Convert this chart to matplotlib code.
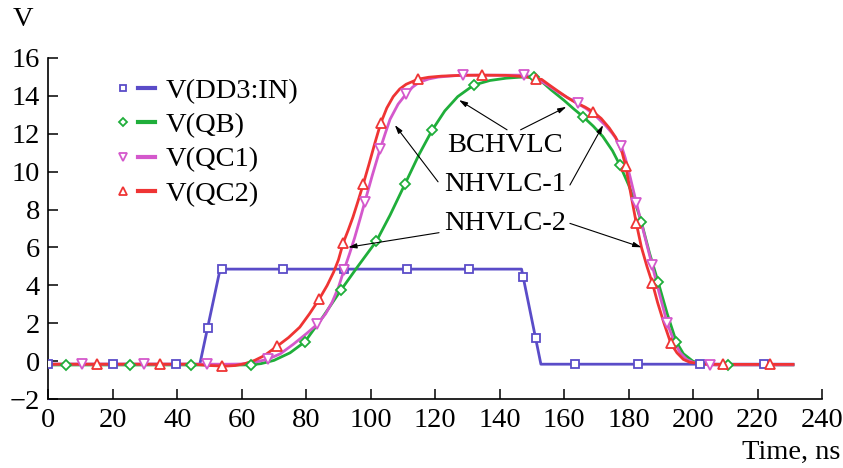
import matplotlib.pyplot as plt
from matplotlib.lines import Line2D
from matplotlib.legend_handler import HandlerTuple

plt.rcParams['font.family'] = ['Liberation Serif', 'DejaVu Serif']

# V(DD3:IN) - line vertices and marker points
in_t = [0, 47, 53.3, 146.8, 152.8, 231]
in_v = [-0.15, -0.15, 4.86, 4.86, -0.15, -0.15]
in_mt = [0, 20.2, 39.5, 49.4, 53.8, 72.7, 91.7, 111.2, 130.4, 147.3, 151.2, 163.4, 183, 202, 221.9]
in_mv = [-0.15, -0.15, -0.15, 1.77, 4.86, 4.86, 4.86, 4.86, 4.86, 4.42, 1.24, -0.15, -0.15, -0.15, -0.15]

# V(QB)
qb_t = [0, 60, 63, 66, 70, 75, 79.6, 85, 90.8, 96, 101.8, 106, 110.6, 115, 119.1, 123, 127, 132,
        137, 142, 146, 150.6, 153, 156, 160, 163, 165.9, 169, 172, 175, 177.3, 180, 182, 184,
        186.5, 189.2, 192, 194.8, 197, 200, 203, 207, 231]
qb_v = [-0.19, -0.19, -0.18, -0.12, 0.05, 0.45, 1.03, 2.3, 3.76, 5.0, 6.34, 7.7, 9.33, 10.9, 12.19,
        13.2, 13.95, 14.56, 14.8, 14.92, 14.97, 14.99, 14.75, 14.3, 13.75, 13.3, 12.89, 12.4, 11.85,
        11.1, 10.34, 9.3, 8.4, 7.32, 5.7, 4.16, 2.5, 1.03, 0.4, 0.0, -0.12, -0.18, -0.19]
qb_mt = [5.5, 25.3, 44.2, 62.9, 79.6, 90.8, 101.8, 110.6, 119.1, 132, 150.6, 165.9, 177.3, 184, 189.2, 194.8, 210.9]
qb_mv = [-0.19, -0.19, -0.19, -0.19, 1.03, 3.76, 6.34, 9.33, 12.19, 14.56, 14.99, 12.89, 10.34, 7.32, 4.16, 1.03, -0.19]

# V(QC1)
qc1_t = [0, 56, 60, 64, 68.2, 72, 76, 80, 83.5, 86, 88, 90, 91.7, 93.5, 95, 96.7, 98.2, 100.5, 102.9,
         104.5, 106, 108.5, 110.9, 113, 115, 118, 121, 125, 128.7, 135, 142, 147.6, 150, 152, 155,
         158, 161, 164.2, 167, 170, 173, 175, 177.8, 179, 180.5, 182.4, 185, 187.3, 189.5, 192, 194,
         196, 198, 200, 203, 205.2, 231]
qc1_v = [-0.15, -0.15, -0.14, -0.05, 0.12, 0.4, 0.9, 1.45, 1.96, 2.5, 3.1, 3.9, 4.8, 5.7, 6.5, 7.5, 8.41,
         9.8, 11.17, 12.0, 12.75, 13.55, 14.07, 14.45, 14.7, 14.88, 14.98, 15.04, 15.08, 15.08, 15.08,
         15.08, 15.0, 14.85, 14.55, 14.2, 13.9, 13.59, 13.3, 12.9, 12.4, 12.0, 11.34, 10.7, 9.7, 8.36,
         6.6, 5.07, 3.6, 2.0, 1.1, 0.45, 0.1, -0.05, -0.15, -0.19, -0.19]
qc1_mt = [10.5, 29.8, 49.1, 68.2, 83.5, 91.7, 98.2, 102.9, 110.9, 128.7, 147.6, 164.2, 177.8, 182.4, 187.3, 192, 205.2]
qc1_mv = [-0.15, -0.15, -0.15, 0.12, 1.96, 4.8, 8.41, 11.17, 14.07, 15.08, 15.08, 13.59, 11.34, 8.36, 5.07, 2.0, -0.19]

# V(QC2)
qc2_t = [0, 45, 50, 55, 58, 61, 64, 67, 71, 74.5, 78, 81, 84, 86.5, 88.5, 90, 91.5, 93, 94.5, 96,
         97.7, 99.5, 101.3, 103.1, 105, 107, 109, 111, 114.7, 118, 122, 128, 134.4, 142, 148, 151.4,
         153, 155.5, 158, 161, 164, 166.5, 169, 171.5, 174, 176, 178, 179.1, 180.5, 182.4, 184,
         185.7, 187.4, 189, 191, 193.1, 195, 197, 199, 202, 205, 209.3, 231]
qc2_v = [-0.15, -0.15, -0.22, -0.25, -0.22, -0.12, 0.05, 0.3, 0.8, 1.25, 1.8, 2.5, 3.27, 4.0, 4.7, 5.35,
         6.25, 6.9, 7.6, 8.4, 9.34, 10.4, 11.5, 12.54, 13.35, 13.95, 14.35, 14.6, 14.87, 14.97, 15.03,
         15.07, 15.08, 15.07, 15.0, 14.87, 14.86, 14.55, 14.25, 13.9, 13.6, 13.4, 13.15, 12.8, 12.3,
         11.8, 11.0, 10.29, 9.0, 7.27, 6.0, 5.0, 4.11, 3.1, 2.0, 0.95, 0.45, 0.1, -0.05, -0.12, -0.15,
         -0.16, -0.16]
qc2_mt = [15.2, 34.8, 53.8, 71, 84, 91.5, 97.7, 103.1, 114.7, 134.4, 151.4, 169, 179.1, 182.4, 187.4, 193.1, 209.3, 223.8]
qc2_mv = [-0.15, -0.15, -0.25, 0.8, 3.27, 6.25, 9.34, 12.54, 14.87, 15.08, 14.87, 13.15, 10.29, 7.27, 4.11, 0.95, -0.16, -0.16]

series = [
    ("V(DD3:IN)", in_t, in_v, in_mt, in_mv, "#5a4cc8", "s"),
    ("V(QB)", qb_t, qb_v, qb_mt, qb_mv, "#1fae3a", "D"),
    ("V(QC1)", qc1_t, qc1_v, qc1_mt, qc1_mv, "#d458cc", "v"),
    ("V(QC2)", qc2_t, qc2_v, qc2_mt, qc2_mv, "#ef3434", "^"),
]
msizes = {"s": 5.5, "D": 5.0, "v": 6.5, "^": 6.5}

fig = plt.figure(figsize=(8.43, 4.68), dpi=100)
ax = fig.add_axes([0.0573, 0.1468, 0.9178, 0.7299])

handles = []
labels = []
for name, t, v, mt, mv, color, marker in series:
    ax.plot(t, v, color=color, lw=2.0, solid_joinstyle='round', zorder=2)
    ax.plot(mt, mv, ls='none', marker=marker, ms=msizes[marker], mfc='white',
            mec=color, mew=1.3, zorder=3)
    h_m = Line2D([], [], ls='none', marker=marker, ms=msizes[marker] - 0.5, mfc='white', mec=color, mew=1.3)
    h_l = Line2D([], [], color=color, lw=3.0)
    handles.append((h_m, h_l))
    labels.append(name)

ax.legend(handles, labels, handler_map={tuple: HandlerTuple(ndivide=None, pad=0.2)},
          loc='upper left', bbox_to_anchor=(0.085, 0.94), frameon=False, fontsize=20.5,
          handlelength=1.45, handletextpad=0.36, labelspacing=0.29, borderpad=0, borderaxespad=0)

arrow = dict(arrowstyle='-|>,head_length=0.5,head_width=0.15', color='black', lw=0.8,
             shrinkA=0, shrinkB=0)

ax.text(141.6, 11.4, "BCHVLC", fontsize=20.5, ha='center', va='center')
ax.text(141.6, 9.3, "NHVLC-1", fontsize=20.5, ha='center', va='center')
ax.text(141.6, 7.27, "NHVLC-2", fontsize=20.5, ha='center', va='center')

ax.annotate("", xy=(127.4, 13.77), xytext=(142.3, 12.2), arrowprops=arrow)
ax.annotate("", xy=(160.7, 13.41), xytext=(146.5, 12.2), arrowprops=arrow)
ax.annotate("", xy=(107.5, 12.45), xytext=(120.9, 9.46), arrowprops=arrow)
ax.annotate("", xy=(172.1, 12.45), xytext=(161.8, 9.29), arrowprops=arrow)
ax.annotate("", xy=(93.0, 6.01), xytext=(121.2, 6.78), arrowprops=arrow)
ax.annotate("", xy=(184.0, 6.01), xytext=(161.8, 7.27), arrowprops=arrow)

ax.set_xlim(0, 240)
ax.set_ylim(-2, 16)
ax.set_xticks(range(0, 241, 20))
ax.set_yticks(range(-2, 17, 2))
ax.spines['top'].set_visible(False)
ax.spines['right'].set_visible(False)
for s in ('left', 'bottom'):
    ax.spines[s].set_linewidth(1.2)
ax.tick_params(direction='in', length=7, width=1.1, labelsize=20.5, pad=6)

fig.text(23 / 843, 1 - 20 / 468, "V", fontsize=20.5, ha='center', va='center')
fig.text(840 / 843, 1 - 452 / 468, "Time, ns", fontsize=20.5, ha='right', va='center')

fig.savefig("out.png", dpi=100)
